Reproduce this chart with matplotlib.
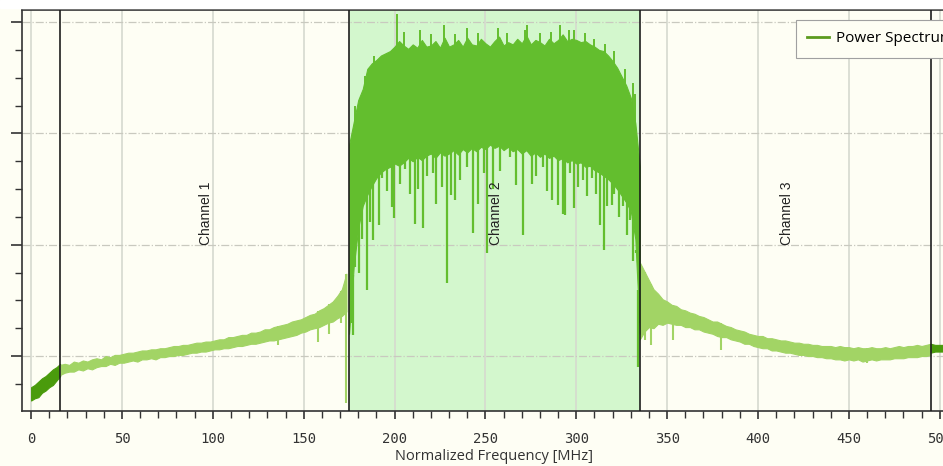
import numpy as np
import matplotlib
matplotlib.use("Agg")
import matplotlib.pyplot as plt
from matplotlib.lines import Line2D
from matplotlib.patches import Rectangle
from matplotlib.ticker import MultipleLocator

# channel borders [MHz] and label positions
borders = [16, 175, 335, 495]
channel_names = ["Channel 1", "Channel 2", "Channel 3"]
channel_centers = [96, 256, 416]

# dark part at the very left (0..16 MHz), 2 MHz steps
f_left = np.arange(0, 17, 2)
left_hi = [-2.8, -2.6, -2.3, -2.0, -1.8, -1.5, -1.2, -1.0, -0.7]
left_lo = [-4.0, -3.8, -3.7, -3.3, -3.1, -2.8, -2.6, -2.2, -1.8]

# channel 1 side lobe band, 2.5 MHz steps from 16 MHz
f_ch1 = np.arange(16, 175, 2.5)
ch1_hi = [-0.8, -0.7, -0.8, -0.5, -0.6, -0.4, -0.5, -0.3, -0.2, -0.3,
          0.0, -0.1, 0.1, 0.1, 0.2, 0.3, 0.3, 0.4, 0.5, 0.5,
          0.6, 0.6, 0.7, 0.7, 0.8, 0.9, 0.9, 1.0, 1.0, 1.1,
          1.2, 1.2, 1.3, 1.3, 1.4, 1.5, 1.5, 1.7, 1.7, 1.8,
          1.9, 1.9, 2.1, 2.1, 2.2, 2.4, 2.4, 2.6, 2.7, 2.8,
          2.9, 3.1, 3.2, 3.3, 3.5, 3.7, 3.8, 4.1, 4.3, 4.6,
          4.9, 5.4, 6.0, 7.4]
ch1_lo = [-1.7, -1.5, -1.4, -1.4, -1.2, -1.3, -1.1, -1.2, -1.0, -0.9,
          -0.9, -0.7, -0.8, -0.6, -0.6, -0.5, -0.4, -0.5, -0.3, -0.3,
          -0.2, -0.3, -0.1, -0.1, 0.0, 0.0, 0.1, 0.1, 0.2, 0.3,
          0.3, 0.4, 0.4, 0.5, 0.6, 0.6, 0.7, 0.7, 0.8, 0.9,
          0.9, 1.0, 1.1, 1.1, 1.2, 1.3, 1.4, 1.4, 1.5, 1.6,
          1.7, 1.8, 1.9, 2.1, 2.2, 2.4, 2.5, 2.6, 2.8, 3.0,
          3.1, 3.4, 3.6, 4.0]
ch1_spike_f = [136, 158, 164, 170.5, 173.5]
ch1_spike_v = [1.0, 1.3, 2.0, 3.0, -4.2]

# channel 2 (occupied band), 2.5 MHz steps from 175 MHz
f_ch2 = np.arange(175, 336, 2.5)
ch2_hi = [19.0, 21.0, 23.0, 24.0, 25.8, 26.3, 26.6, 27.0, 27.2, 27.4,
          27.8, 28.3, 27.9, 27.6, 28.0, 27.7, 28.4, 27.8, 27.9, 28.3,
          27.7, 28.6, 27.8, 28.0, 28.4, 27.8, 28.6, 28.0, 27.9, 28.5,
          28.1, 27.8, 28.3, 28.7, 27.9, 28.2, 28.0, 28.5, 28.1, 28.8,
          28.0, 28.4, 28.2, 27.9, 28.5, 28.1, 28.4, 28.9, 28.3, 28.5,
          28.4, 28.2, 28.3, 28.0, 27.8, 27.5, 27.4, 27.0, 26.5, 25.9,
          25.1, 24.3, 23.2, 20.9, 17.0]
ch2_lo = [2.0, 8.0, 11.5, 13.5, 14.5, 15.3, 16.0, 16.5, 16.8, 17.0,
          17.3, 17.1, 17.4, 17.8, 17.5, 17.9, 17.6, 18.0, 18.2, 17.8,
          18.3, 18.0, 18.2, 18.5, 18.1, 18.6, 18.3, 18.7, 18.4, 18.8,
          18.6, 19.0, 18.7, 18.9, 18.5, 18.8, 18.4, 18.6, 18.2, 18.5,
          18.0, 18.3, 17.9, 18.2, 17.8, 18.0, 17.6, 17.8, 17.4, 17.6,
          17.3, 17.4, 17.0, 17.1, 16.7, 16.5, 16.2, 15.9, 15.5, 15.0,
          14.4, 13.8, 13.0, 10.5, 2.0]
ch2_dip_f = [176, 177, 178.5, 180.5, 182, 185, 186.5, 188, 191.5, 193,
             196, 198.5, 199.5, 203, 206, 208.5, 211, 213, 215.5, 218,
             221, 223, 226, 229, 231, 233, 236, 240, 243, 246,
             249, 251, 254, 258, 263.5, 267, 270.6, 275.5, 278, 281.6,
             284, 286.5, 290, 292.6, 294, 296.5, 299, 301, 303.6, 306,
             308.5, 311, 313, 315, 316.8, 319.5, 321, 323.5, 325.6, 328,
             329.5, 331, 333, 334, 334.6]
ch2_dip_v = [3.0, 1.9, 8.0, 7.5, 10.5, 5.9, 12.0, 10.4, 11.8, 16.0,
             14.8, 13.4, 12.4, 15.5, 16.8, 14.6, 11.9, 15.0, 11.5, 16.2,
             16.4, 13.7, 15.2, 6.6, 14.5, 14.0, 15.8, 17.0, 11.05, 13.7,
             16.4, 9.3, 15.0, 16.6, 17.9, 15.4, 10.9, 15.5, 16.2, 17.0,
             14.8, 14.0, 13.6, 12.8, 12.7, 16.4, 13.3, 15.2, 15.8, 14.4,
             16.0, 14.6, 11.8, 9.5, 13.5, 13.6, 14.6, 12.5, 13.5, 10.9,
             12.2, 8.5, 9.5, -1.0, 3.0]
ch2_peak_f = [178, 183.5, 188.5, 201.5, 205, 214, 220, 227, 233, 240,
              246, 257, 262, 272, 273, 280, 286, 291, 296, 299,
              305, 310, 316, 321, 327, 331, 332.5]
ch2_peak_v = [22.5, 25.2, 27.0, 30.7, 29.1, 29.3, 28.9, 29.7, 28.9, 29.5,
              29.0, 29.5, 29.0, 29.3, 29.7, 29.0, 29.1, 29.7, 29.3, 29.3,
              29.0, 28.5, 28.0, 27.4, 25.8, 24.5, 23.5]

# channel 3 side lobe band, 2.5 MHz steps from 335 MHz
f_ch3 = np.arange(335, 496, 2.5)
ch3_hi = [8.4, 7.6, 6.8, 6.0, 5.6, 5.1, 4.9, 4.6, 4.5, 4.2,
          4.1, 3.9, 3.8, 3.6, 3.5, 3.3, 3.1, 3.1, 2.9, 2.7,
          2.6, 2.4, 2.3, 2.2, 2.0, 1.9, 1.8, 1.8, 1.6, 1.6,
          1.5, 1.4, 1.4, 1.3, 1.2, 1.2, 1.1, 1.1, 1.0, 1.0,
          0.9, 0.9, 0.9, 0.8, 0.9, 0.8, 0.8, 0.7, 0.8, 0.7,
          0.7, 0.8, 0.7, 0.7, 0.8, 0.7, 0.8, 0.9, 0.8, 0.9,
          0.9, 1.0, 0.9, 1.0, 1.1]
ch3_lo = [1.5, 2.2, 2.6, 2.5, 2.9, 2.8, 3.0, 2.9, 2.8, 2.8,
          2.6, 2.6, 2.4, 2.4, 2.2, 2.1, 2.0, 1.8, 1.7, 1.7,
          1.5, 1.4, 1.3, 1.1, 1.1, 0.9, 0.8, 0.7, 0.7, 0.5,
          0.5, 0.4, 0.3, 0.3, 0.2, 0.1, 0.1, 0.0, 0.0, -0.1,
          -0.1, -0.2, -0.2, -0.3, -0.3, -0.4, -0.3, -0.4, -0.3, -0.5,
          -0.4, -0.3, -0.4, -0.3, -0.3, -0.3, -0.2, -0.2, -0.2, -0.1,
          -0.1, -0.1, 0.0, 0.0, 0.1]
ch3_spike_f = [337.7, 341, 353, 379.5, 460]
ch3_spike_v = [1.4, 1.0, 1.4, 0.5, -0.6]

# dark part at the very right (495..502 MHz)
f_right = [495, 497.5, 500, 502.5]
right_hi = [1.1, 1.0, 1.0, 1.0]
right_lo = [0.3, 0.4, 0.4, 0.4]

bg = '#fefef4'
dark = '#4a9b0c'
light = '#a2d465'
bright = '#63be2e'

fig = plt.figure(figsize=(9.43, 4.66), dpi=100, facecolor=bg)
fig.patches.append(Rectangle((0, 1 - 8 / 466), 1, 8 / 466, transform=fig.transFigure,
                             color='white', zorder=0))
ax = fig.add_axes([22 / 943, 55 / 466, 945 / 943, 401 / 466])
ax.set_facecolor(bg)
ax.set_axisbelow(True)

ax.axvspan(borders[1], borders[2], color='#d3f7cd', zorder=0.2, lw=0)

# spectrum
ax.fill_between(f_left, left_lo, left_hi, color=dark, lw=0.8, ec=dark, zorder=2)
ax.fill_between(f_ch1, ch1_lo, ch1_hi, color=light, lw=0.8, ec=light, zorder=2)
ax.vlines(ch1_spike_f, ch1_spike_v, np.interp(ch1_spike_f, f_ch1, ch1_hi), color=light, lw=1.5, zorder=2)
ax.fill_between(f_ch3, ch3_lo, ch3_hi, color=light, lw=0.8, ec=light, zorder=2)
ax.vlines(ch3_spike_f, ch3_spike_v, np.interp(ch3_spike_f, f_ch3, ch3_hi), color=light, lw=1.5, zorder=2)
ax.fill_between(f_right, right_lo, right_hi, color=dark, lw=0.8, ec=dark, zorder=2)
ax.fill_between(f_ch2, ch2_lo, ch2_hi, color=bright, lw=0.8, ec=bright, zorder=2.5)
ax.vlines(ch2_dip_f, ch2_dip_v, np.interp(ch2_dip_f, f_ch2, ch2_lo) + 0.5, color=bright, lw=1.6, zorder=2.5)
ax.vlines(ch2_peak_f, np.interp(ch2_peak_f, f_ch2, ch2_hi) - 0.5, ch2_peak_v, color=bright, lw=1.4, zorder=2.5)

# channel borders and names
for b in borders:
    ax.axvline(b, color='#1e1e1e', lw=1.2, zorder=3)
for name, c in zip(channel_names, channel_centers):
    ax.text(c, 12.85, name, rotation=90, ha='center', va='center', fontsize=10,
            family='Liberation Sans', color='#222222', zorder=4)

ax.set_xlim(-5, 515)
ax.set_ylim(-4.94, 31.09)
ax.xaxis.set_major_locator(MultipleLocator(50))
ax.xaxis.set_minor_locator(MultipleLocator(10))
ax.yaxis.set_major_locator(MultipleLocator(10))
ax.yaxis.set_minor_locator(MultipleLocator(2.5))
ax.tick_params(axis='x', which='major', length=6, width=1.2, pad=9, colors='#333333', labelsize=10)
ax.tick_params(axis='x', which='minor', length=5, width=1.0, colors='#333333')
ax.tick_params(axis='y', which='major', length=8, width=1.2, colors='#333333', labelleft=False)
ax.tick_params(axis='y', which='minor', length=5, width=1.0, colors='#333333')
for lab in ax.get_xticklabels():
    lab.set_family('DejaVu Sans Mono')

ax.grid(axis='x', which='major', color='#d6d9cf', lw=1.2, ls='-')
ax.grid(axis='y', which='major', color='#c9c9bf', lw=0.9, ls='-.')

for s in ['left', 'bottom', 'top']:
    ax.spines[s].set_color('#333333')
    ax.spines[s].set_linewidth(1.2)

ax.set_xlabel('Normalized Frequency [MHz]', fontsize=10.5, family='Open Sans', color='#333333', labelpad=2)

handle = Line2D([], [], color='#5c9b1e', lw=2)
leg = ax.legend([handle], ['Power Spectrum'], loc='upper left', bbox_to_anchor=(0.819, 0.975),
                prop={'family': 'Open Sans', 'size': 11}, fancybox=False, framealpha=1,
                edgecolor='#a0a0a0', facecolor=bg, handlelength=1.4, handletextpad=0.45,
                borderpad=0.75, borderaxespad=0)
leg.get_frame().set_linewidth(0.8)

fig.savefig('out.png', dpi=100, facecolor=bg)
